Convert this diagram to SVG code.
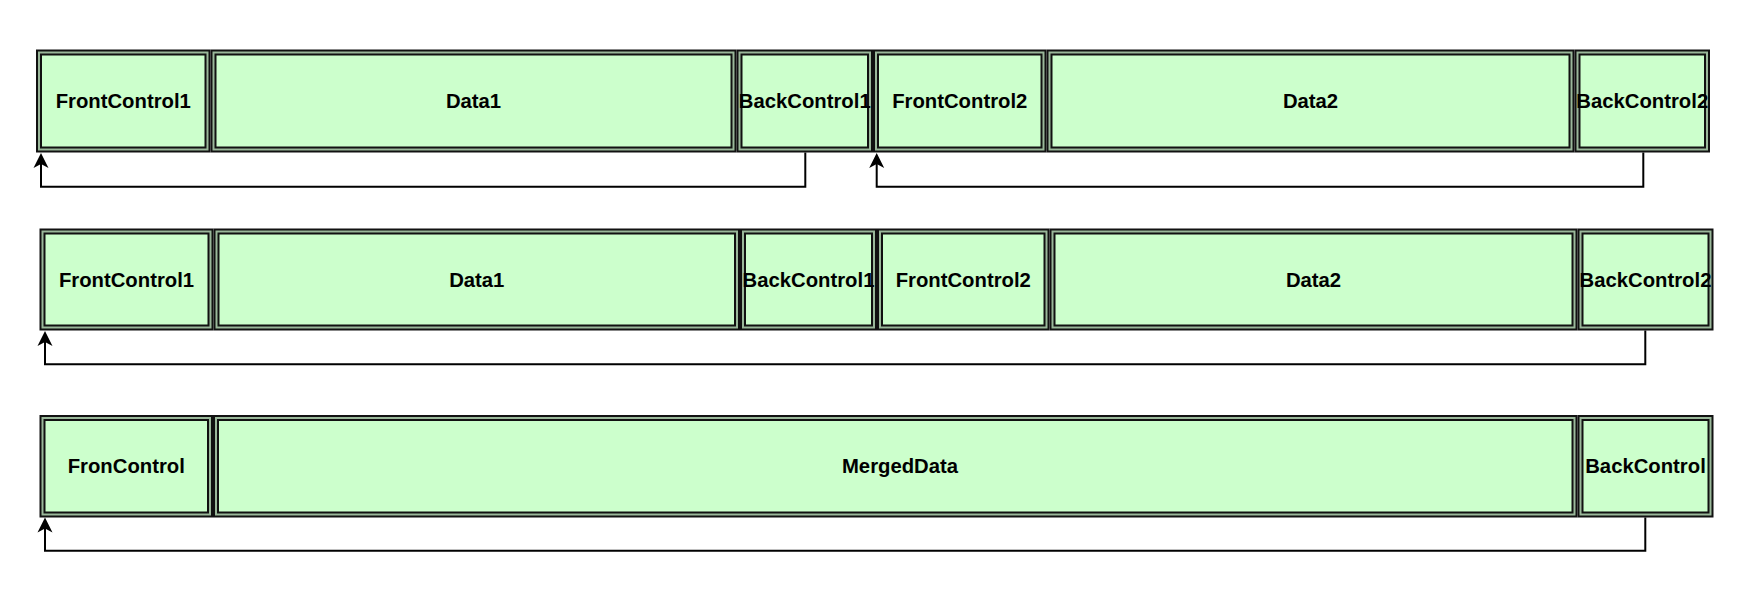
<svg xmlns="http://www.w3.org/2000/svg" width="1740" height="592" viewBox="0 0 1740 592">
  <style>
    .outer { fill: #CCFFCC; stroke: #111111; stroke-width: 6; }
    .mid { fill: none; stroke: #9ab89a; stroke-width: 2; }
    .lbl { font-family: "Liberation Sans", Arial, sans-serif; font-weight: bold; font-size: 20.3px; fill: #000000; text-anchor: middle; }
    .conn { fill: none; stroke: #000000; stroke-width: 2; marker-end: url(#arrow); }
  </style>
  <defs>
    <marker id="arrow" markerUnits="userSpaceOnUse" markerWidth="16" markerHeight="16" refX="5" refY="8" orient="auto" overflow="visible">
      <path d="M15,8 L0,0.5 L4,8 L0,15.5 Z" fill="#000000"/>
    </marker>
  </defs>
  <rect width="1740" height="592" fill="#ffffff"/>

  <!-- Row 1 -->
  <g id="r1-frontcontrol1">
    <rect class="outer" x="39" y="52.5" width="168.5" height="97"/>
    <rect class="mid" x="39" y="52.5" width="168.5" height="97"/>
    <text class="lbl" x="123.25" y="107.8">FrontControl1</text>
  </g>
  <g id="r1-data1">
    <rect class="outer" x="213.5" y="52.5" width="520" height="97"/>
    <rect class="mid" x="213.5" y="52.5" width="520" height="97"/>
    <text class="lbl" x="473.5" y="107.8">Data1</text>
  </g>
  <g id="r1-backcontrol1">
    <rect class="outer" x="739.5" y="52.5" width="130.5" height="97"/>
    <rect class="mid" x="739.5" y="52.5" width="130.5" height="97"/>
    <text class="lbl" x="804.75" y="107.8">BackControl1</text>
  </g>
  <g id="r1-frontcontrol2">
    <rect class="outer" x="876" y="52.5" width="167.5" height="97"/>
    <rect class="mid" x="876" y="52.5" width="167.5" height="97"/>
    <text class="lbl" x="959.75" y="107.8">FrontControl2</text>
  </g>
  <g id="r1-data2">
    <rect class="outer" x="1049.5" y="52.5" width="522" height="97"/>
    <rect class="mid" x="1049.5" y="52.5" width="522" height="97"/>
    <text class="lbl" x="1310.5" y="107.8">Data2</text>
  </g>
  <g id="r1-backcontrol2">
    <rect class="outer" x="1577.5" y="52.5" width="129.5" height="97"/>
    <rect class="mid" x="1577.5" y="52.5" width="129.5" height="97"/>
    <text class="lbl" x="1642.25" y="107.8">BackControl2</text>
  </g>

  <!-- Row 2 -->
  <g id="r2-frontcontrol1">
    <rect class="outer" x="42.5" y="231.5" width="168" height="96"/>
    <rect class="mid" x="42.5" y="231.5" width="168" height="96"/>
    <text class="lbl" x="126.5" y="286.5">FrontControl1</text>
  </g>
  <g id="r2-data1">
    <rect class="outer" x="216.5" y="231.5" width="520.5" height="96"/>
    <rect class="mid" x="216.5" y="231.5" width="520.5" height="96"/>
    <text class="lbl" x="476.75" y="286.5">Data1</text>
  </g>
  <g id="r2-backcontrol1">
    <rect class="outer" x="743" y="231.5" width="131" height="96"/>
    <rect class="mid" x="743" y="231.5" width="131" height="96"/>
    <text class="lbl" x="808.5" y="286.5">BackControl1</text>
  </g>
  <g id="r2-frontcontrol2">
    <rect class="outer" x="880" y="231.5" width="166.5" height="96"/>
    <rect class="mid" x="880" y="231.5" width="166.5" height="96"/>
    <text class="lbl" x="963.25" y="286.5">FrontControl2</text>
  </g>
  <g id="r2-data2">
    <rect class="outer" x="1052.5" y="231.5" width="522" height="96"/>
    <rect class="mid" x="1052.5" y="231.5" width="522" height="96"/>
    <text class="lbl" x="1313.5" y="286.5">Data2</text>
  </g>
  <g id="r2-backcontrol2">
    <rect class="outer" x="1580.5" y="231.5" width="130" height="96"/>
    <rect class="mid" x="1580.5" y="231.5" width="130" height="96"/>
    <text class="lbl" x="1645.5" y="286.5">BackControl2</text>
  </g>

  <!-- Row 3 -->
  <g id="r3-froncontrol">
    <rect class="outer" x="42.5" y="418" width="167.5" height="96.5"/>
    <rect class="mid" x="42.5" y="418" width="167.5" height="96.5"/>
    <text class="lbl" x="126.25" y="473">FronControl</text>
  </g>
  <g id="r3-mergeddata">
    <rect class="outer" x="216" y="418" width="1358.5" height="96.5"/>
    <rect class="mid" x="216" y="418" width="1358.5" height="96.5"/>
    <text class="lbl" x="900" y="473">MergedData</text>
  </g>
  <g id="r3-backcontrol">
    <rect class="outer" x="1580.5" y="418" width="130" height="96.5"/>
    <rect class="mid" x="1580.5" y="418" width="130" height="96.5"/>
    <text class="lbl" x="1645.5" y="473">BackControl</text>
  </g>

  <!-- Connectors -->
  <g id="connectors">
    <path class="conn" d="M805.3 152.5 V186.7 H41 V163"/>
    <path class="conn" d="M1643.3 152.5 V186.7 H876.7 V163"/>
    <path class="conn" d="M1645.3 330.5 V364.3 H45 V341"/>
    <path class="conn" d="M1645.3 517.5 V550.7 H45 V527.5"/>
  </g>
</svg>
